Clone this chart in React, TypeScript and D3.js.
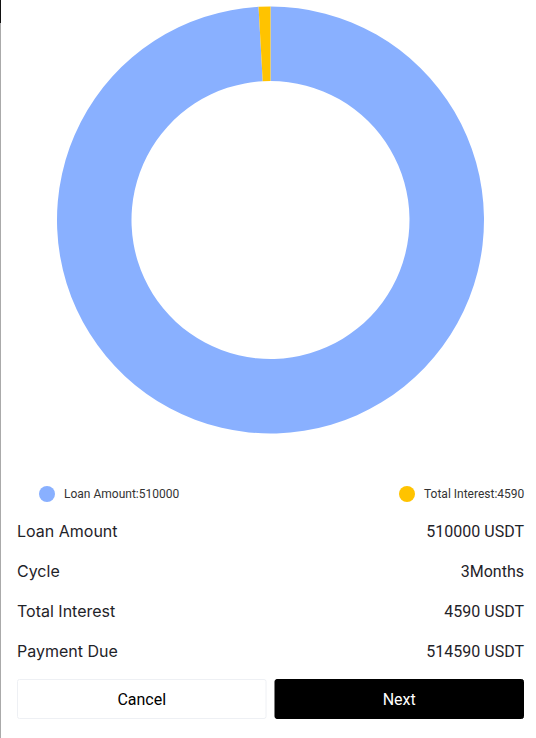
import { useEffect, useRef } from "react";
import * as d3 from "d3";

const categories = ["Loan Amount", "Total Interest"];
const values = [510000, 4590];
const colors = ["#89b0ff", "#ffc300"];

const rowLabels = ["Loan Amount", "Cycle", "Total Interest", "Payment Due"];
const rowValues = ["510000 USDT", "3Months", "4590 USDT", "514590 USDT"];

const buttonLabels = ["Cancel", "Next"];

const W = 536;
const H = 738;
const FONT = "Roboto, 'Noto Sans', sans-serif";
const LABEL_FONT = "Inter, Roboto, sans-serif";

export default function App() {
  const ref = useRef<SVGSVGElement | null>(null);

  useEffect(() => {
    const svg = d3.select(ref.current);
    svg.selectAll("*").remove(); // clear previous renders

    svg.append("rect").attr("width", W).attr("height", H).attr("fill", "#fff");

    // left edge border
    svg.append("rect").attr("x", 0).attr("y", 0).attr("width", 1).attr("height", H).attr("fill", "#aaa");
    svg.append("rect").attr("x", 0).attr("y", 0).attr("width", 1).attr("height", 23).attr("fill", "#111");

    const data = categories.map((c, i) => ({ name: c, value: values[i], color: colors[i] }));

    const pie = d3.pie<{ name: string; value: number; color: string }>()
      .sort(null)
      .value((d) => d.value);

    const arc = d3.arc<d3.PieArcDatum<{ name: string; value: number; color: string }>>()
      .innerRadius(139)
      .outerRadius(213.5);

    const g = svg.append("g").attr("transform", "translate(270.5,220)");
    g.selectAll("path")
      .data(pie(data))
      .join("path")
      .attr("d", arc)
      .attr("fill", (d) => d.data.color);

    // legend
    const legendX = [47, 407];
    const leg = svg.append("g").selectAll("g").data(data).join("g")
      .attr("transform", (_d, i) => `translate(${legendX[i]},494)`);
    leg.append("circle").attr("r", 8).attr("fill", (d) => d.color);
    leg.append("text")
      .attr("x", 17)
      .attr("dy", "0.35em")
      .attr("font-family", FONT)
      .attr("font-size", 12)
      .attr("fill", "#333")
      .text((d) => `${d.name}:${d.value}`);

    // info rows
    const y = d3.scalePoint<string>().domain(rowLabels).range([531, 651]);
    const rows = svg.append("g").selectAll("g").data(rowLabels).join("g")
      .attr("transform", (d) => `translate(0,${y(d)})`);
    rows.append("text")
      .attr("x", 17)
      .attr("dy", "0.35em")
      .attr("font-family", LABEL_FONT)
      .attr("font-size", 16)
      .attr("fill", "#1f2329")
      .text((d) => d);
    rows.append("text")
      .attr("x", 524)
      .attr("dy", "0.35em")
      .attr("text-anchor", "end")
      .attr("font-family", FONT)
      .attr("font-size", 16)
      .attr("fill", "#1f2329")
      .text((_d, i) => rowValues[i]);

    // buttons
    const bx = d3.scaleBand<string>().domain(buttonLabels).range([17, 524]).paddingInner(0.031);
    const btn = svg.append("g").selectAll("g").data(buttonLabels).join("g")
      .attr("transform", (d) => `translate(${bx(d)},679)`);
    btn.append("rect")
      .attr("x", 0.5)
      .attr("y", 0.5)
      .attr("width", bx.bandwidth() - 1)
      .attr("height", 39)
      .attr("rx", 2)
      .attr("fill", (_d, i) => (i === 0 ? "#fff" : "#000"))
      .attr("stroke", (_d, i) => (i === 0 ? "#eef0f4" : "#000"));
    btn.append("text")
      .attr("x", bx.bandwidth() / 2)
      .attr("y", 20)
      .attr("dy", "0.35em")
      .attr("text-anchor", "middle")
      .attr("font-family", FONT)
      .attr("font-size", 16)
      .attr("fill", (_d, i) => (i === 0 ? "#000" : "#fff"))
      .text((d) => d);
  }, []);

  return (
    <svg
      ref={ref}
      width={W}
      height={H}
      style={{ position: "absolute", left: 0, top: 0, display: "block" }}
    />
  );
}
